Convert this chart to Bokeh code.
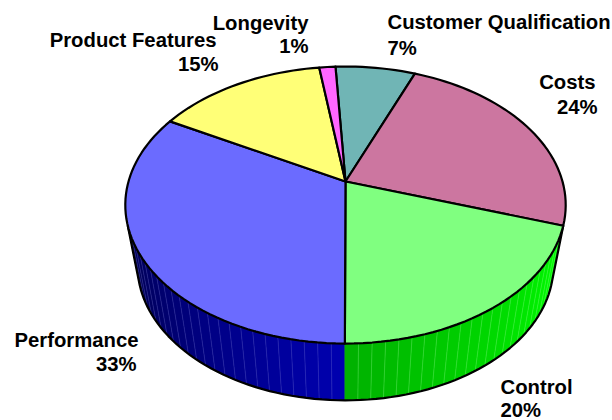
import math
from bokeh.plotting import figure
from bokeh.models import Range1d
from bokeh.core.properties import value
from bokeh.embed import file_html
from bokeh.resources import INLINE

categories = ["Customer Qualification", "Costs", "Control", "Performance", "Product Features", "Longevity"]
shares = [6.9, 24.0, 20.0, 33.0, 14.7, 1.4]
percent_labels = ["7%", "24%", "20%", "33%", "15%", "1%"]
top_colors = ["#70B5B5", "#CC76A0", "#80FF80", "#6B6BFF", "#FFFF77", "#FF66FF"]
label_x = [387, 595, 500, 138, 216, 308]
label_y = [21, 81, 386, 339, 39, 22]
pct_x = [387, 597, 500, 136, 218, 308]
pct_y = [47, 106, 409, 363, 63, 45]
label_align = ["left", "right", "left", "right", "right", "right"]

START = -3.1
CX = 345.0
K = 0.17

def top_pt(t):
    r = math.radians(t); d = 1 + K * math.cos(r)
    return CX + 217 * math.sin(r) / d, 181 - 134.5 * math.cos(r) / d

def low_pt(t):
    r = math.radians(t); d = 1 + K * math.cos(r)
    return CX + 205 * math.sin(r) / d, 242 - 131 * math.cos(r) / d

def mix(c1, c2, f):
    return "#%02x%02x%02x" % tuple(round(a + (b - a) * f) for a, b in zip(c1, c2))

p = figure(width=612, height=420, output_backend="svg", toolbar_location=None,
           x_range=Range1d(0, 612), y_range=Range1d(420, 0), min_border=0,
           outline_line_color=None)
p.axis.visible = False
p.grid.visible = False

edges = [START]
for s in shares:
    edges.append(edges[-1] + s * 3.6)

def wall(t0, t1, c0, c1, seam):
    n = max(1, round(abs(t1 - t0) / 3.0))
    for i in range(n):
        a = t0 + (t1 - t0) * i / n
        b = t0 + (t1 - t0) * (i + 1) / n
        col = mix(c0, c1, (i + .5) / n)
        ta, tb, la, lb = top_pt(a), top_pt(b), low_pt(a), low_pt(b)
        p.patch([ta[0], tb[0], lb[0], la[0]], [ta[1], tb[1], lb[1], la[1]],
                fill_color=col, line_color=col, line_width=0.6)
        if i > 0:
            p.line([ta[0], la[0]], [ta[1], la[1]], line_color=seam, line_width=0.7, line_alpha=0.4)

control_start, perf_start = edges[2], edges[3]
SIL = 252.0
wall(perf_start, SIL, (0, 0, 0xb0), (0, 0, 0x50), "#6a6ad8")
wall(perf_start, control_start, (0, 0xb0, 0), (0, 0xff, 0), "#90ff90")

ts = [control_start + (SIL - control_start) * i / 80 for i in range(81)]
lx = [low_pt(t)[0] for t in ts]
ly = [low_pt(t)[1] for t in ts]
a, b = top_pt(control_start), top_pt(SIL)
p.line([a[0]] + lx + [b[0]], [a[1]] + ly + [b[1]], line_color="black", line_width=2.2)

for i, col in enumerate(top_colors):
    t0, t1 = edges[i], edges[i + 1]
    n = max(2, int((t1 - t0) / 2))
    pts = [top_pt(t0 + (t1 - t0) * j / n) for j in range(n + 1)]
    xs = [CX] + [q[0] for q in pts]
    ys = [181] + [q[1] for q in pts]
    p.patch(xs, ys, fill_color=col, line_color="black", line_width=2.2, line_join="round")

for name, pct, x, y, px, py, al in zip(categories, percent_labels, label_x, label_y, pct_x, pct_y, label_align):
    p.text([x], [y], text=[name], text_align=al, text_baseline="middle",
           text_font=value("Liberation Sans"), text_font_style="bold", text_font_size="20.3px", text_color="black")
    p.text([px], [py], text=[pct], text_align=al, text_baseline="middle",
           text_font=value("Liberation Sans"), text_font_style="bold", text_font_size="20.3px", text_color="black")

open("out.html", "w").write(file_html(p, INLINE))
